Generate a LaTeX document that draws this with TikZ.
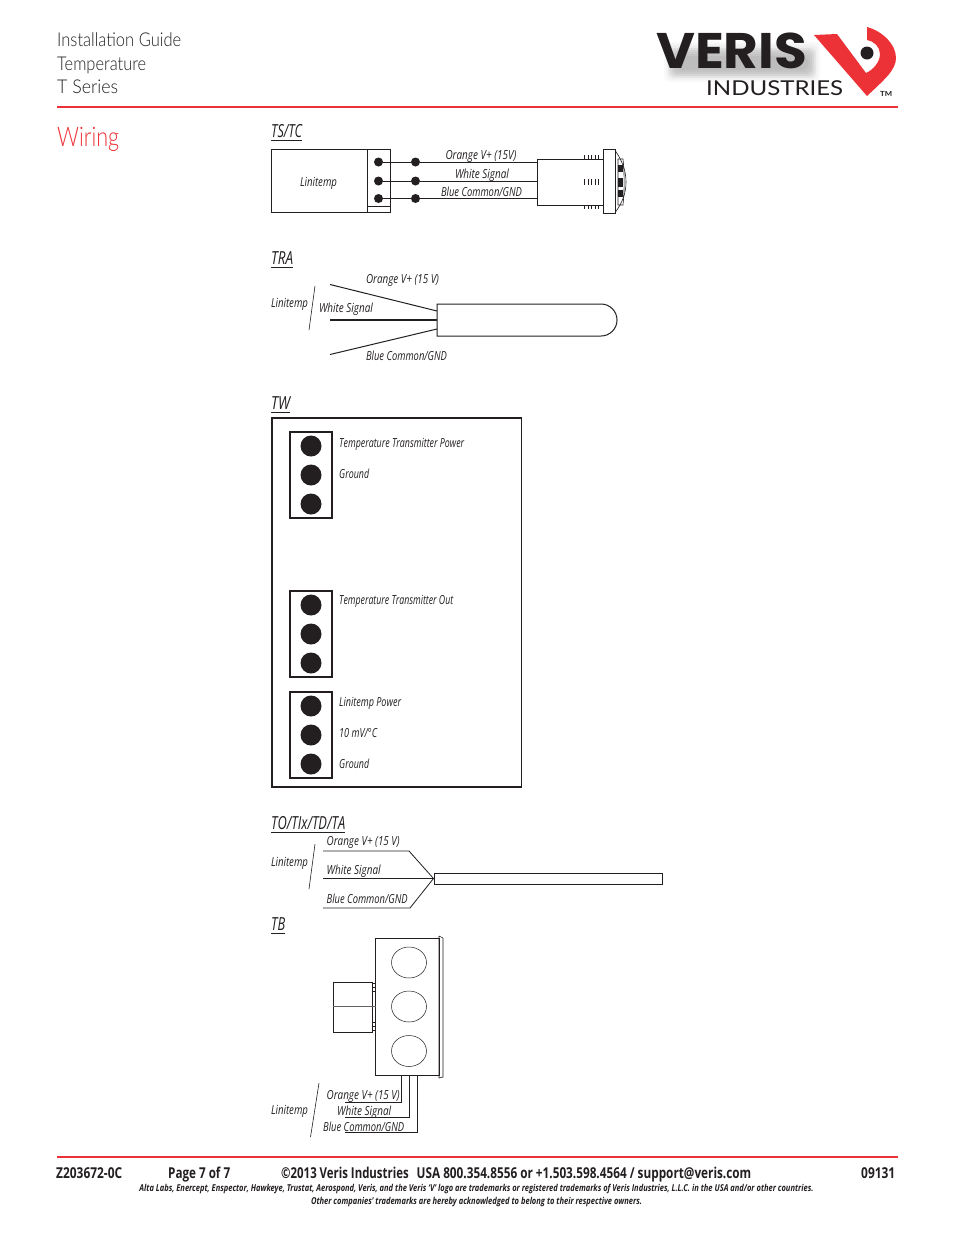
\documentclass[tikz,border=0pt]{standalone}
\usepackage{graphicx}
\usepackage{fontspec}
\setmainfont{Open Sans}
\newfontfamily\thinf{Lato Light}
\newfontfamily\logof{Poppins}
\newfontfamily\logoi{Lato}
\usetikzlibrary{calc}
\definecolor{verisred}{HTML}{ED3237}
\definecolor{ink}{HTML}{231F20}
\newcommand{\fit}[2]{\resizebox{#1pt}{\height}{#2}}
\newcommand{\lab}[5]{\node[lbl] (#1) at (#2,#3) {\fit{#4}{\fontsize{12.5}{13}\selectfont\itshape #5}};}
\newcommand{\head}[5]{\node[lblw] (#1) at (#2,#3) {\fit{#4}{\fontsize{18}{18}\selectfont\itshape #5}};
  \draw[wire] (#2,#3+3) -- ++(#4,0);}
\tikzset{
  lbl/.style={inner sep=0pt,anchor=base,text=ink},
  lblw/.style={inner sep=0pt,anchor=base west,text=ink},
  wire/.style={draw=ink,line width=0.8pt},
  thinl/.style={draw=ink,line width=0.6pt},
  boxn/.style={draw=ink,line width=0.8pt,inner sep=0pt,fill=white},
  blackdot/.style={circle,fill=ink,inner sep=0pt,minimum size=9pt},
  bigdot/.style={circle,fill=ink,inner sep=0pt,minimum size=21pt},
  ring/.style={ellipse,draw=ink,line width=0.5pt,inner sep=0pt},
}
\usetikzlibrary{shapes.geometric}
\begin{document}
\begin{tikzpicture}[x=1pt,y=-1pt]
\useasboundingbox[fill=white] (0,0) rectangle (954,1235);
% header
\node[lblw] (h1) at (57,46) {\fit{124}{\thinf\fontsize{19}{19}\selectfont Installation Guide}};
\node[lblw] (h2) at (57,70) {\fit{89}{\thinf\fontsize{19}{19}\selectfont Temperature}};
\node[lblw] (h3) at (57,93) {\fit{61}{\thinf\fontsize{19}{19}\selectfont T Series}};
\node[lblw,text=verisred] (wiring) at (57,146) {\fit{62}{\thinf\fontsize{27}{27}\selectfont Wiring}};
\draw[verisred,line width=1.5pt] (57,107) -- (898,107);
% logo
\foreach \d in {0,2,4,6,8}{
  \fill[black,opacity=0.03,rounded corners=6pt] (668+\d,48+\d) rectangle (816-\d,78-\d);
  \fill[black,opacity=0.025,rounded corners=6pt] (664+\d,42+\d) rectangle (820-\d,82-\d);
}
\node[lblw] (veris) at (656,68.5) {\fit{151}{\logof\bfseries\fontsize{50}{50}\selectfont\color{ink}VERIS}};
\node[lblw] (ind) at (706,95.5) {\fit{137}{\logoi\fontsize{20.5}{21}\selectfont\color{ink}INDUSTRIES}};
\node[lblw] (tm) at (880,96) {\fit{12}{\logoi\bfseries\fontsize{7}{7}\selectfont\color{ink}TM}};
\fill[verisred] (814,35) -- (837,34) -- (866,73)
  .. controls (873,70) and (880,62) .. (880,54)
  .. controls (880,47) and (874,41) .. (867,40) -- (867,27)
  .. controls (882,31) and (896,44) .. (896,58)
  .. controls (896,70) and (884,80) .. (867,96) -- cycle;
\node[circle,fill=ink,inner sep=0pt,minimum size=13pt] (vdot) at (867,53) {};
% TS/TC
\head{hts}{271}{137}{31}{TS/TC}
\node[boxn,minimum width=119pt,minimum height=63pt] (lin) at (331,181) {};
\node[boxn,minimum width=23pt,minimum height=63pt] (term) at (379,181) {};
\coordinate (tl) at (367.5,206); \coordinate (tr) at (390.5,206);
\draw[thinl] (tl) -- (tr);
\lab{linl}{318.5}{186}{37}{Linitemp}
\foreach \n/\y/\yy in {a/162/162,b/181/181,c/198.5/198.5}{
  \node[blackdot] (p\n) at (378.5,\y) {};
  \node[blackdot] (q\n) at (415.5,\y) {};
  \coordinate (e\n) at (537,\y);
  \draw[wire] (p\n) -- (q\n) -- (e\n);
}
\lab{ts1}{481}{159}{71}{Orange V+ (15V)}
\lab{ts2}{482}{178}{54}{White Signal}
\lab{ts3}{481.5}{196}{81}{Blue Common/GND}
\coordinate (s1) at (603,159.5); \coordinate (s2) at (537,159.5);
\coordinate (s3) at (537,205); \coordinate (s4) at (603,205);
\draw[wire] (s1) -- (s2) -- (s3) -- (s4);
\foreach \x in {584.5,588,591.5,595,598}{
  \draw[draw=ink,line width=0.6pt] (\x,155) -- (\x,159);
  \draw[draw=ink,line width=0.6pt] (\x,179) -- (\x,185);
  \draw[draw=ink,line width=0.6pt] (\x,205) -- (\x,209);
}
\node[draw=ink,line width=1.2pt,inner sep=0pt,minimum width=12pt,minimum height=64pt,fill=white] (cap) at (609.5,181.5) {};
\draw[thinl] (615.5,151) .. controls (623,162) and (626,172) .. (626,182) .. controls (626,192) and (623,202) .. (615.5,212);
\draw[thinl] (618,159) -- (623,159) .. controls (624.5,172) and (624.5,192) .. (623,205) -- (618,205) -- cycle;
\foreach \y/\h in {168.5/7,182.5/9,193.5/7}{\fill[ink] (618,\y-\h/2) rectangle (622.5,\y+\h/2);}
% TRA
\head{htra}{271}{264}{22}{TRA}
\draw[thinl] (315,286) -- (309,330);
\lab{tral}{289.5}{307}{37}{Linitemp}
\lab{tra1}{402.5}{283}{73}{Orange V+ (15 V)}
\lab{tra2}{346}{312}{54}{White Signal}
\lab{tra3}{406.5}{360}{81}{Blue Common/GND}
\coordinate (ta) at (330,284.5); \coordinate (tae) at (437,311);
\coordinate (tb) at (330,320); \coordinate (tbe) at (437,320);
\coordinate (tc) at (330,354.5); \coordinate (tce) at (437,329);
\draw[wire,line width=1pt] (ta) -- (tae);
\draw[wire,line width=1.2pt] (tb) -- (tbe);
\draw[wire,line width=1pt] (tc) -- (tce);
\draw[draw=ink,line width=1pt] (437,304) -- (601,304) arc[start angle=90,end angle=-90,x radius=16,y radius=-16] -- (437,336) -- cycle;
% TW
\head{htw}{271}{409}{19}{TW}
\node[draw=ink,line width=1.2pt,inner sep=0pt,minimum width=249.5pt,minimum height=369pt] (twb) at (396.75,602.5) {};
\foreach \n/\c/\a/\b/\d in {a/475/446/475/504,b/634/605/634/663,c/735/706/735/764}{
  \node[draw=ink,line width=1.3pt,inner sep=0pt,minimum width=42pt,minimum height=86pt] (tb\n) at (311,\c) {};
  \node[bigdot] (tb\n1) at (311,\a) {};
  \node[bigdot] (tb\n2) at (311,\b) {};
  \node[bigdot] (tb\n3) at (311,\d) {};
}
\newcommand{\labw}[5]{\node[lblw] (#1) at (#2,#3) {\fit{#4}{\fontsize{12.5}{13}\selectfont\itshape #5}};}
\labw{tw1}{339}{447}{125}{Temperature Transmitter Power}
\labw{tw2}{339}{478}{30}{Ground}
\labw{tw3}{339}{604}{114}{Temperature Transmitter Out}
\labw{tw4}{339}{706}{62}{Linitemp Power}
\labw{tw5}{339}{737}{38}{10 mV/°C}
\labw{tw6}{339}{768}{30}{Ground}
% TO
\head{hto}{271}{829}{74}{TO/TIx/TD/TA}
\draw[thinl] (315,844) -- (309,889);
\lab{tol}{289.5}{866}{37}{Linitemp}
\labw{to1}{326.5}{845}{73}{Orange V+ (15 V)}
\labw{to2}{326.5}{874}{54}{White Signal}
\labw{to3}{326.5}{903}{81}{Blue Common/GND}
\node[draw=ink,line width=0.8pt,inner sep=0pt,minimum width=228pt,minimum height=11pt] (tob) at (548.5,878.5) {};
\coordinate (oa) at (323,851); \coordinate (ob) at (409,851);
\coordinate (oc) at (323,878.5); \coordinate (od) at (433.5,878.5);
\coordinate (oe) at (323,908); \coordinate (of) at (410,908);
\draw[wire] (oa) -- (ob) -- (od);
\draw[wire] (oc) -- (od);
\draw[wire] (oe) -- (of) -- (od);
% TB
\head{htb}{271}{930}{14}{TB}
\node[boxn,minimum width=63.5pt,minimum height=137pt] (tbbox) at (407.5,1006.5) {};
\draw[thinl] (439,936) -- (443,938) -- (443,1077) -- (439,1078) -- (439,936);
\node[ring,minimum width=35pt,minimum height=31pt] (c1) at (409,962.5) {};
\node[ring,minimum width=35pt,minimum height=31pt] (c2) at (409,1006.5) {};
\node[ring,minimum width=35pt,minimum height=31pt] (c3) at (409,1051) {};
\node[boxn,minimum width=39pt,minimum height=50pt] (side) at (352.5,1007) {};
\foreach \y in {983,987,991,1022,1026,1030}{\draw[thinl] (371.5,\y) -- (375.5,\y);}
\coordinate (m1) at (333,1006.5); \coordinate (m2) at (375.5,1006.5);
\draw[draw=ink!70,line width=0.9pt] (m1) -- (m2);
\coordinate (w1) at (401.5,1075); \coordinate (w1a) at (401.5,1102); \coordinate (w1b) at (345,1102);
\coordinate (w2) at (409.5,1075); \coordinate (w2a) at (409.5,1117); \coordinate (w2b) at (345,1117);
\coordinate (w3) at (417.5,1075); \coordinate (w3a) at (417.5,1132); \coordinate (w3b) at (345,1132);
\draw[wire] (w1) -- (w1a) -- (w1b);
\draw[wire] (w2) -- (w2a) -- (w2b);
\draw[wire] (w3) -- (w3a) -- (w3b);
\draw[thinl] (319,1083) -- (310.5,1137);
\lab{tbl}{289.5}{1114}{37}{Linitemp}
\labw{tb1}{326.5}{1099}{73}{Orange V+ (15 V)}
\labw{tb2}{337}{1115.5}{54}{White Signal}
\labw{tb3}{323}{1131.5}{81}{Blue Common/GND}
% footer
\draw[verisred,line width=1.3pt] (57,1157) -- (898,1157);
\newcommand{\foot}[4]{\node[lblw] (#1) at (#2,1178) {\fit{#3}{\fontsize{15}{15}\selectfont\bfseries #4}};}
\foot{f1}{56}{66}{Z203672-0C}
\foot{f2}{168}{62}{Page 7 of 7}
\foot{f3}{281}{127.5}{©2013 Veris Industries}
\foot{f4}{416.5}{334.5}{USA 800.354.8556 or +1.503.598.4564 / support@veris.com}
\foot{f5}{861}{34}{09131}
\node[lbl] (f6) at (476.5,1191.5) {\fit{674}{\fontsize{9.5}{10}\selectfont\itshape\bfseries Alta Labs, Enercept, Enspector, Hawkeye, Trustat, Aerospond, Veris, and the Veris ‘V’ logo are trademarks or registered trademarks of Veris Industries, L.L.C. in the USA and/or other countries.}};
\node[lbl] (f7) at (476.5,1204.5) {\fit{331}{\fontsize{9.5}{10}\selectfont\itshape\bfseries Other companies’ trademarks are hereby acknowledged to belong to their respective owners.}};
\end{tikzpicture}
\end{document}
